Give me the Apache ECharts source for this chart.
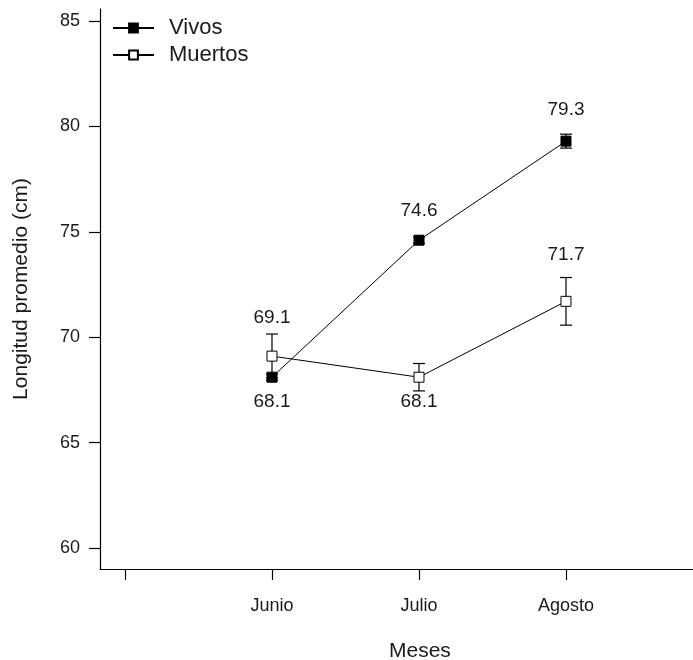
<!DOCTYPE html>
<html>
<head>
<meta charset="utf-8">
<script src="https://cdn.jsdelivr.net/npm/echarts@6/dist/echarts.min.js"></script>
<style>html,body{margin:0;padding:0;background:#fff}#c{width:693px;height:660px}</style>
</head>
<body>
<div id="c"></div>
<script>
// ---- data ----
var months = ["Junio", "Julio", "Agosto"];
var monthPos = [1, 2, 3];
var vivos = [68.1, 74.6, 79.3];
var vivosErr = [0.15, 0.15, 0.33];
var muertos = [69.1, 68.1, 71.7];
var muertosErr = [1.05, 0.65, 1.13];
var yTicks = [60, 65, 70, 75, 80, 85];
var xTicks = [0, 1, 2, 3];
var xTitle = "Meses";
var yTitle = "Longitud promedio (cm)";

var FONT = "'Liberation Sans', Arial, sans-serif";
var TXT = '#1a1a1a';

function pts(vals, pos, dist) {
  return vals.map(function (v, i) {
    return {
      value: [monthPos[i], v],
      label: { position: pos[i], distance: dist[i] }
    };
  });
}
function errData(vals, errs) {
  return vals.map(function (v, i) { return [monthPos[i], v - errs[i], v + errs[i]]; });
}
function errRender(params, api) {
  var x = api.value(0);
  var lo = api.coord([x, api.value(1)]);
  var hi = api.coord([x, api.value(2)]);
  var w = 6;
  var st = { stroke: '#000', lineWidth: 1.2 };
  return {
    type: 'group',
    children: [
      { type: 'line', shape: { x1: lo[0], y1: lo[1], x2: hi[0], y2: hi[1] }, style: st },
      { type: 'line', shape: { x1: lo[0] - w, y1: lo[1], x2: lo[0] + w, y2: lo[1] }, style: st },
      { type: 'line', shape: { x1: hi[0] - w, y1: hi[1], x2: hi[0] + w, y2: hi[1] }, style: st }
    ]
  };
}

var labelStyle = {
  show: true,
  fontFamily: FONT,
  fontSize: 19,
  color: TXT,
  formatter: function (p) { return p.value[1].toFixed(1); }
};

var chart = echarts.init(document.getElementById('c'), null, { renderer: 'canvas' });
chart.setOption({
  animation: false,
  backgroundColor: '#fff',
  grid: { left: 100, top: 9, right: 0, bottom: 91, containLabel: false },
  legend: {
    orient: 'vertical',
    left: 107,
    top: 12,
    itemWidth: 41,
    itemHeight: 11,
    itemGap: 5,
    textStyle: { fontFamily: FONT, fontSize: 22, color: TXT, lineHeight: 22, padding: [0, 0, 0, 10] },
    data: ['Vivos', 'Muertos']
  },
  graphic: [
    {
      type: 'text', left: 419 - 30, top: 641,
      style: { text: xTitle, fontFamily: FONT, fontSize: 21, fill: TXT, width: 60, align: 'center' }
    }
  ],
  xAxis: {
    type: 'value',
    min: -0.17,
    max: 3.864,
    splitLine: { show: false },
    axisLine: { show: true, onZero: false, lineStyle: { color: '#000', width: 1.2 } },
    axisTick: { show: true, length: 11, customValues: xTicks, lineStyle: { color: '#000', width: 1.2 } },
    axisLabel: {
      show: true,
      customValues: monthPos,
      margin: 28,
      fontFamily: FONT, fontSize: 18, color: TXT,
      formatter: function (v) { var i = monthPos.indexOf(Math.round(v)); return i >= 0 ? months[i] : ''; }
    }
  },
  yAxis: {
    type: 'value',
    min: 59,
    max: 85.57,
    name: yTitle,
    nameLocation: 'middle',
    nameGap: 68,
    nameTextStyle: { fontFamily: FONT, fontSize: 21, color: TXT },
    splitLine: { show: false },
    axisLine: { show: true, onZero: false, lineStyle: { color: '#000', width: 1.2 } },
    axisTick: { show: true, length: 11, customValues: yTicks, lineStyle: { color: '#000', width: 1.2 } },
    axisLabel: {
      show: true,
      customValues: yTicks,
      margin: 20,
      fontFamily: FONT, fontSize: 18, color: TXT
    }
  },
  series: [
    {
      name: 'VivosErr', type: 'custom', renderItem: errRender,
      data: errData(vivos, vivosErr), encode: { x: 0, y: [1, 2] }, z: 1, silent: true
    },
    {
      name: 'MuertosErr', type: 'custom', renderItem: errRender,
      data: errData(muertos, muertosErr), encode: { x: 0, y: [1, 2] }, z: 1, silent: true
    },
    {
      name: 'Vivos', type: 'line', z: 3,
      symbol: 'rect', symbolSize: 10,
      lineStyle: { color: '#000', width: 1 },
      itemStyle: { color: '#000', borderColor: '#000', borderWidth: 1 },
      label: labelStyle,
      data: pts(vivos, ['bottom', 'top', 'top'], [10, 14, 16])
    },
    {
      name: 'Muertos', type: 'line', z: 3,
      symbol: 'rect', symbolSize: 10,
      lineStyle: { color: '#000', width: 1 },
      itemStyle: { color: '#fff', borderColor: '#000', borderWidth: 1 },
      label: labelStyle,
      data: pts(muertos, ['top', 'bottom', 'top'], [23, 10, 32])
    }
  ]
});
</script>
</body>
</html>
